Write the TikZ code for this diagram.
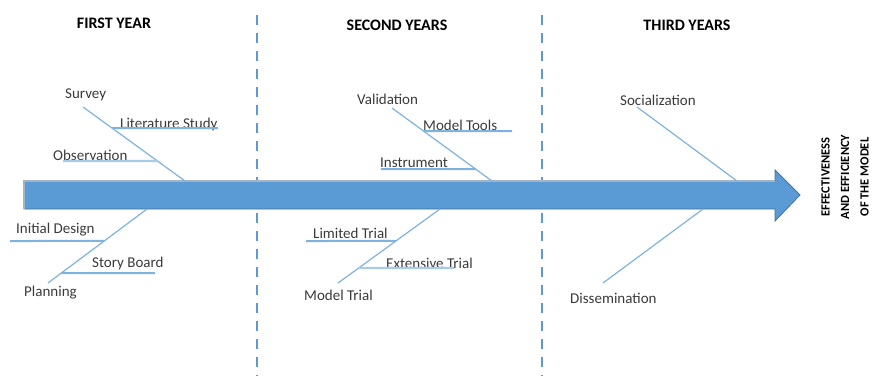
\documentclass[tikz,border=0pt]{standalone}
\usepackage{fontspec}
\setmainfont{Carlito}
\usepackage{tikz}
\usetikzlibrary{calc,positioning}
\definecolor{spinefill}{HTML}{5B9BD5}
\definecolor{spineedge}{HTML}{41719C}
\definecolor{spinetop}{HTML}{A5B3C2}
\definecolor{bone}{HTML}{7EB2E0}
\definecolor{bonelight}{HTML}{A9CBEA}
\definecolor{labelgrey}{HTML}{3A3A3A}
\tikzset{
    spine/.style={
        fill=spinefill,
        draw=spineedge,
        line width=0.8pt
    },
    divider/.style={
        draw=spinefill,
        line width=2pt,
        dash pattern=on 10pt off 8pt
    },
    bone line/.style={draw=bone, line width=1.2pt},
    under line/.style={draw=bone, line width=2pt},
    light line/.style={draw=bonelight, line width=2.4pt},
    cause/.style={
        anchor=west,
        inner sep=0pt,
        text=labelgrey,
        font=\fontsize{15}{17}\selectfont
    },
    year/.style={
        inner sep=0pt,
        font=\bfseries\fontsize{16}{18}\selectfont
    },
    effect/.style={
        rotate=90,
        align=center,
        inner sep=0pt,
        font=\bfseries\fontsize{12.5}{19.5}\selectfont
    }
}

\begin{document}
\begin{tikzpicture}[x=1pt, y=-1pt]
    \useasboundingbox (0,0) rectangle (873,376);

    % year dividers
    \coordinate (div1 top) at (257,15);
    \coordinate (div1 bot) at (257,376);
    \coordinate (div2 top) at (542,15);
    \coordinate (div2 bot) at (542,376);
    \draw[divider] (div1 top) -- (div1 bot);
    \draw[divider] (div2 top) -- (div2 bot);

    % spine
    \draw[spine] (24,181) -- (775,181) -- (775,170) -- (800,195)
        -- (775,221) -- (775,209) -- (24,209) -- cycle;
    \draw[spinetop, line width=1.2pt] (24,209) -- (24,181) -- (775,181);

    \node[year] (first year) at (114,23) {FIRST YEAR};
    \node[year] (second year) at (397,25) {SECOND YEARS};
    \node[year] (third year) at (687,25) {THIRD YEARS};

    \node[effect] (effect) at (845,177) {EFFECTIVENESS\\AND EFFICIENCY\\OF THE MODEL};

    % first year
    \node[cause] (survey) at (65,95) {Survey};
    \node[cause] (lit study) at (120,124) {Literature Study};
    \node[cause] (observation) at (53,155) {Observation};
    \coordinate (survey end) at (83,107);
    \coordinate (survey root) at (185,181);
    \draw[bone line] (survey end) -- (survey root);
    \coordinate (lit start) at ($(survey end)!0.284!(survey root)$);
    \coordinate (lit end) at (218,128);
    \draw[under line] (lit start) -- (lit end);
    \coordinate (obs start) at (63,161);
    \coordinate (obs end) at ($(survey end)!0.73!(survey root)$);
    \draw[light line] (obs start) -- (obs end);

    \node[cause] (initial design) at (16,230) {Initial Design};
    \node[cause] (story board) at (92,263) {Story Board};
    \node[cause] (planning) at (24,293) {Planning};
    \coordinate (plan root) at (147,209);
    \coordinate (plan end) at (48,283);
    \draw[bone line] (plan root) -- (plan end);
    \coordinate (design start) at (10,241);
    \coordinate (design end) at ($(plan root)!0.432!(plan end)$);
    \draw[under line] (design start) -- (design end);
    \coordinate (board start) at ($(plan root)!0.865!(plan end)$);
    \coordinate (board end) at (155,273);
    \draw[under line] (board start) -- (board end);

    % second year
    \node[cause] (validation) at (357,99) {Validation};
    \node[cause] (model tools) at (423,125) {Model Tools};
    \node[cause] (instrument) at (380,163) {Instrument};
    \coordinate (valid end) at (392,108);
    \coordinate (valid root) at (492,181);
    \draw[bone line] (valid end) -- (valid root);
    \coordinate (tools start) at ($(valid end)!0.315!(valid root)$);
    \coordinate (tools end) at (512,131);
    \draw[under line] (tools start) -- (tools end);
    \coordinate (instr start) at (381,169);
    \coordinate (instr end) at ($(valid end)!0.836!(valid root)$);
    \draw[under line] (instr start) -- (instr end);

    \node[cause] (limited trial) at (313,233) {Limited Trial};
    \node[cause] (extensive trial) at (386,263) {Extensive Trial};
    \node[cause] (model trial) at (304,295) {Model Trial};
    \coordinate (trial root) at (440,209);
    \coordinate (trial end) at (338,283);
    \draw[bone line] (trial root) -- (trial end);
    \coordinate (limited start) at (306,241);
    \coordinate (limited end) at ($(trial root)!0.432!(trial end)$);
    \draw[under line] (limited start) -- (limited end);
    \coordinate (ext start) at ($(trial root)!0.797!(trial end)$);
    \coordinate (ext end) at (454,268);
    \draw[light line] (ext start) -- (ext end);

    % third year
    \node[cause] (socialization) at (620,100) {Socialization};
    \coordinate (social end) at (637,107);
    \coordinate (social root) at (737,181);
    \draw[bone line] (social end) -- (social root);

    \node[cause] (dissemination) at (570,298) {Dissemination};
    \coordinate (dissem root) at (703,209);
    \coordinate (dissem end) at (603,283);
    \draw[bone line] (dissem root) -- (dissem end);
\end{tikzpicture}
\end{document}
